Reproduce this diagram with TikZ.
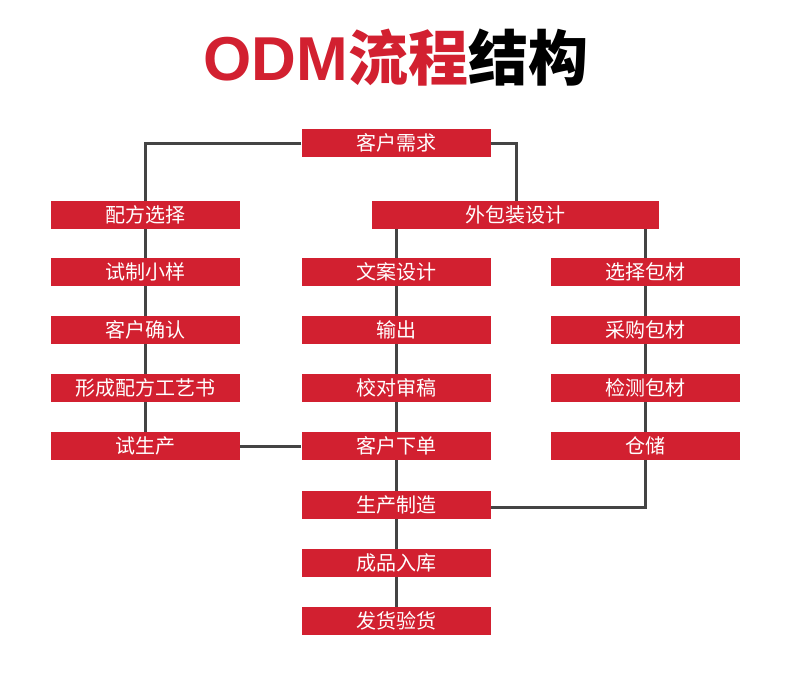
\documentclass[tikz,border=0pt]{standalone}
\usepackage{fontspec}
\newfontfamily\cjk{Noto Sans CJK SC}
\newfontfamily\latinb{Liberation Sans}
\definecolor{boxred}{RGB}{210,32,48}
\definecolor{linegray}{RGB}{68,68,68}
\begin{document}
\begin{tikzpicture}[x=1pt,y=-1pt,
  stepbox/.style={fill=boxred,text=white,minimum width=189pt,minimum height=28pt,inner sep=0pt,font=\cjk\fontsize{20}{20}\selectfont},
  link/.style={draw=linegray,line width=3pt}]
\useasboundingbox[fill=white] (0,0) rectangle (795,693);
\node[font=\bfseries\fontsize{60}{60}\selectfont,inner sep=0pt] (title) at (396,58) {\textcolor{boxred}{{\latinb\fontsize{62}{62}\selectfont ODM}{\cjk 流程}}\textcolor{black}{\cjk 结构}};
% left column
\node[stepbox] (a1) at (145.5,215) {配方选择};
\node[stepbox] (a2) at (145.5,272) {试制小样};
\node[stepbox] (a3) at (145.5,330) {客户确认};
\node[stepbox] (a4) at (145.5,388) {形成配方工艺书};
\node[stepbox] (a5) at (145.5,446) {试生产};
% middle column
\node[stepbox] (top) at (396,143) {客户需求};
\node[stepbox,minimum width=287pt] (pk) at (515.5,215) {外包装设计};
\node[stepbox] (b1) at (396,272) {文案设计};
\node[stepbox] (b2) at (396,330) {输出};
\node[stepbox] (b3) at (396,388) {校对审稿};
\node[stepbox] (b4) at (396,446) {客户下单};
\node[stepbox] (b5) at (396,505) {生产制造};
\node[stepbox] (b6) at (396,563) {成品入库};
\node[stepbox] (b7) at (396,621) {发货验货};
% right column
\node[stepbox] (c1) at (645.5,272) {选择包材};
\node[stepbox] (c2) at (645.5,330) {采购包材};
\node[stepbox] (c3) at (645.5,388) {检测包材};
\node[stepbox] (c4) at (645.5,446) {仓储};
% connectors
\coordinate (tl) at (145.5,143);
\coordinate (tr) at (516,143);
\coordinate (cr) at (645.5,507);
\coordinate (pkm) at (396,229);
\coordinate (pkr) at (645.5,229);
\path[link] (top.west) -- (tl) -- (a1.north);
\path[link] (top.east) -- (tr) -- (tr |- pk.north);
\path[link] (a1) -- (a2) (a2) -- (a3) (a3) -- (a4) (a4) -- (a5);
\path[link] (pkm) -- (b1.north);
\path[link] (b1) -- (b2) (b2) -- (b3) (b3) -- (b4) (b4) -- (b5) (b5) -- (b6) (b6) -- (b7);
\path[link] (pkr) -- (c1.north);
\path[link] (c1) -- (c2) (c2) -- (c3) (c3) -- (c4);
\path[link] (a5.east) -- (b4.west);
\path[link] (c4.south) -- (cr) -- (cr -| b5.east);
\end{tikzpicture}
\end{document}
